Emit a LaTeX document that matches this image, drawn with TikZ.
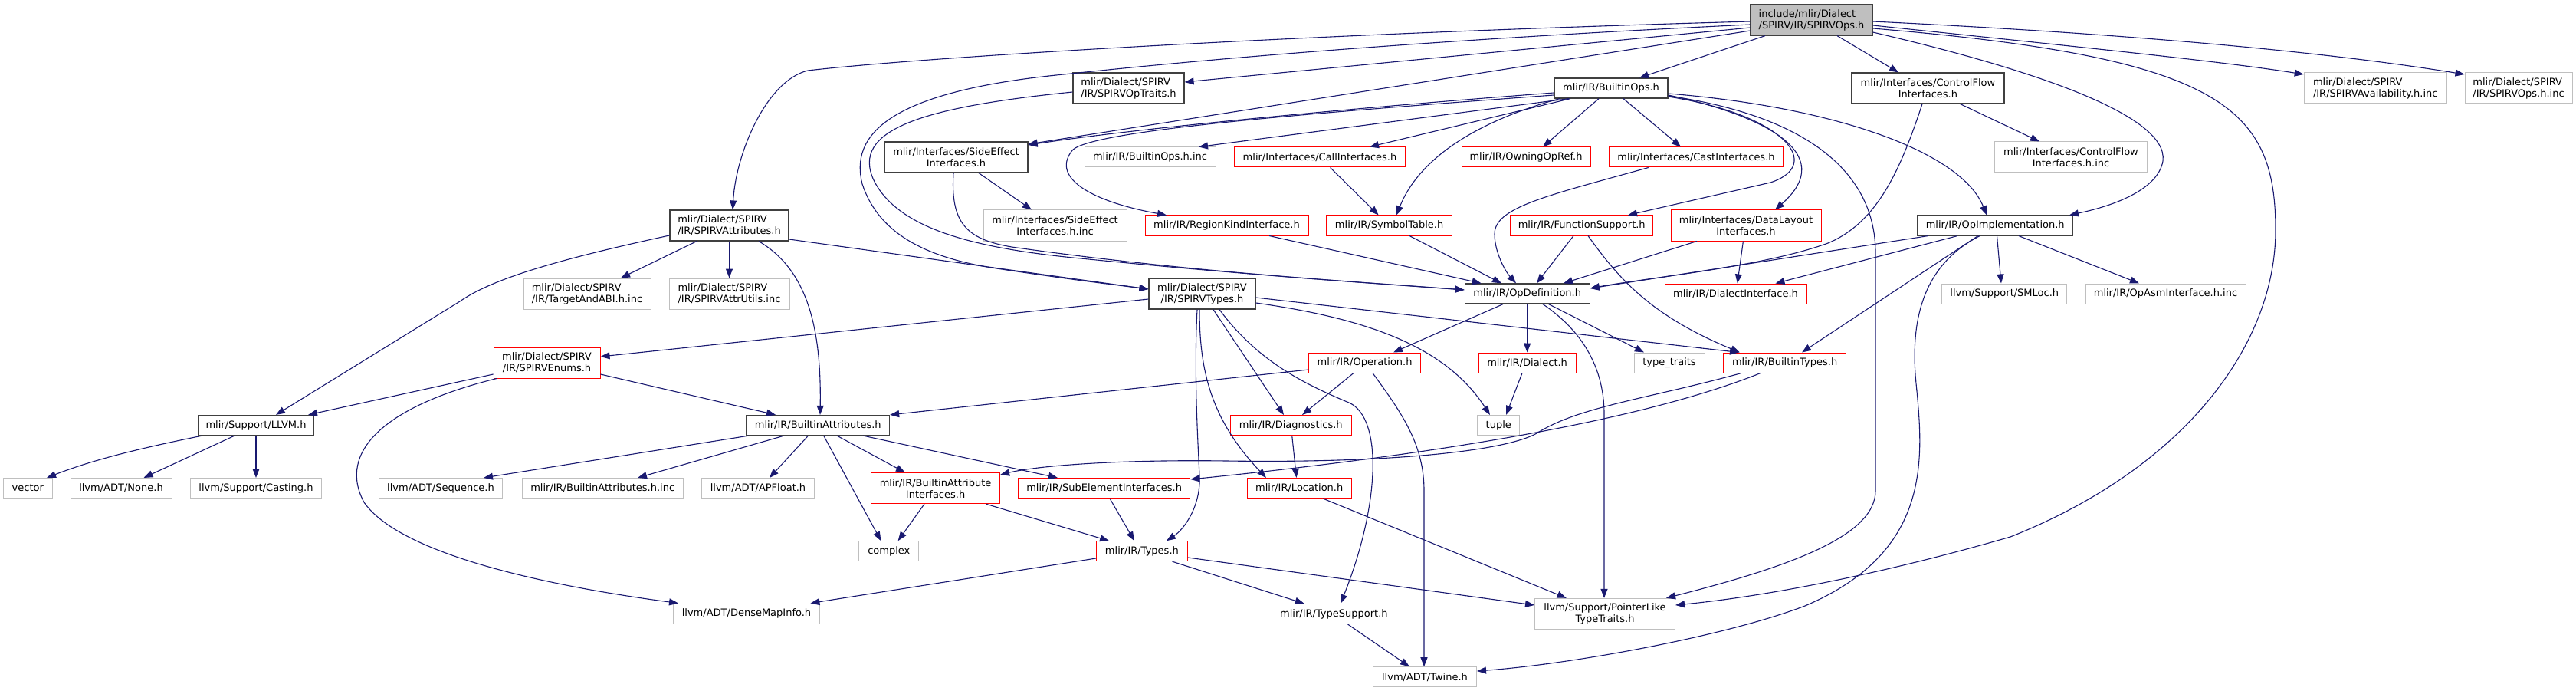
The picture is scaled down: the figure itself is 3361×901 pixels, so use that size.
\documentclass[tikz,border=0pt]{standalone}
\usepackage{fontspec}
\setmainfont{DejaVu Sans}
\usetikzlibrary{arrows.meta}
\definecolor{ebl}{HTML}{191970}
\definecolor{nblk}{HTML}{404040}
\definecolor{ngry}{HTML}{BFBFBF}
\definecolor{nred}{HTML}{FF0000}
\begin{document}
\begin{tikzpicture}[x=1pt,y=-1pt,
  box/.style={draw=nblk, line width=1.2pt, fill=white, inner sep=0pt, align=center, font=\fontsize{13}{15}\selectfont, text=black},
  rbox/.style={box, draw=nred, line width=1pt},
  gbox/.style={box, draw=ngry, line width=1pt},
  wh/.style 2 args={minimum width=#1pt, minimum height=#2pt},
  e/.style={draw=ebl, line width=1.1pt, -{Triangle[length=12pt,width=9pt]}}]
\useasboundingbox (0,0) rectangle (3361,901);
% row A
\node[box, fill=ngry, align=left, wh={159}{40}] (top) at (2363.5,26) {include/mlir/Dialect\\/SPIRV/IR/SPIRVOps.h};
% row B
\node[box, align=left, wh={145}{40}] (optraits) at (1472.5,115) {mlir/Dialect/SPIRV\\/IR/SPIRVOpTraits.h};
\node[box, wh={148}{26}] (builtinops) at (2102,115) {mlir/IR/BuiltinOps.h};
\node[box, wh={199}{40}] (cf) at (2515.4,115) {mlir/Interfaces/ControlFlow\\Interfaces.h};
\node[gbox, align=left, wh={186}{40}] (avail) at (3099.2,115) {mlir/Dialect/SPIRV\\/IR/SPIRVAvailability.h.inc};
\node[gbox, align=left, wh={140}{40}] (opsinc) at (3286,115) {mlir/Dialect/SPIRV\\/IR/SPIRVOps.h.inc};
% row C
\node[box, wh={187}{40}] (sideeff) at (1247.5,205) {mlir/Interfaces/SideEffect\\Interfaces.h};
\node[gbox, wh={171}{26}] (boinc) at (1500.5,205) {mlir/IR/BuiltinOps.h.inc};
\node[rbox, wh={223}{26}] (call) at (1722,205) {mlir/Interfaces/CallInterfaces.h};
\node[rbox, wh={168}{26}] (owning) at (1991,205) {mlir/IR/OwningOpRef.h};
\node[rbox, wh={227}{26}] (cast) at (2213,205) {mlir/Interfaces/CastInterfaces.h};
\node[gbox, wh={199}{40}] (cfinc) at (2702,205) {mlir/Interfaces/ControlFlow\\Interfaces.h.inc};
% row D
\node[box, align=left, wh={155}{40}] (attr) at (951.5,294) {mlir/Dialect/SPIRV\\/IR/SPIRVAttributes.h};
\node[gbox, wh={187}{40}] (sideinc) at (1376.5,294) {mlir/Interfaces/SideEffect\\Interfaces.h.inc};
\node[rbox, wh={213}{26}] (region) at (1600.5,294) {mlir/IR/RegionKindInterface.h};
\node[rbox, wh={164}{26}] (symtab) at (1812.6,294) {mlir/IR/SymbolTable.h};
\node[rbox, wh={186}{26}] (funcsup) at (2063.7,294) {mlir/IR/FunctionSupport.h};
\node[rbox, wh={196}{40}] (datalayout) at (2278,294) {mlir/Interfaces/DataLayout\\Interfaces.h};
\node[box, wh={203}{26}] (opimpl) at (2603.2,294) {mlir/IR/OpImplementation.h};
% row E
\node[gbox, align=left, wh={166}{40}] (tabi) at (766,383) {mlir/Dialect/SPIRV\\/IR/TargetAndABI.h.inc};
\node[gbox, align=left, wh={157}{40}] (autils) at (951.5,383) {mlir/Dialect/SPIRV\\/IR/SPIRVAttrUtils.inc};
\node[box, wh={139}{40}] (spirvtypes) at (1568.5,383) {mlir/Dialect/SPIRV\\/IR/SPIRVTypes.h};
\node[box, wh={163}{26}] (opdef) at (1992.7,383) {mlir/IR/OpDefinition.h};
\node[rbox, wh={185}{26}] (dialif) at (2264.5,383) {mlir/IR/DialectInterface.h};
\node[gbox, wh={163}{26}] (smloc) at (2615.3,383) {llvm/Support/SMLoc.h};
\node[gbox, wh={209}{26}] (opasm) at (2825.5,383) {mlir/IR/OpAsmInterface.h.inc};
% row F
\node[rbox, wh={139}{40}] (enums) at (713.5,473) {mlir/Dialect/SPIRV\\/IR/SPIRVEnums.h};
\node[rbox, wh={145.5}{26}] (operation) at (1780.6,473) {mlir/IR/Operation.h};
\node[rbox, wh={127}{26}] (dialect) at (1992.6,473) {mlir/IR/Dialect.h};
\node[gbox, wh={92}{26}] (typetraits) at (2178,473) {type\_traits};
\node[rbox, wh={160.4}{26}] (btypes) at (2328.6,473) {mlir/IR/BuiltinTypes.h};
% row G
\node[box, wh={150}{26}] (llvm) at (334,554.5) {mlir/Support/LLVM.h};
\node[box, wh={186.5}{26}] (battr) at (1067.3,554.5) {mlir/IR/BuiltinAttributes.h};
\node[rbox, wh={158}{26}] (diag) at (1684.3,554.5) {mlir/IR/Diagnostics.h};
\node[gbox, wh={54.7}{26}] (tuple) at (1955.3,554.5) {tuple};
% row H
\node[gbox, wh={63.5}{26}] (vector) at (36.3,636.5) {vector};
\node[gbox, wh={132}{26}] (none) at (158,636.5) {llvm/ADT/None.h};
\node[gbox, wh={170.6}{26}] (casting) at (334,636.5) {llvm/Support/Casting.h};
\node[gbox, wh={161}{26}] (sequence) at (575,636.5) {llvm/ADT/Sequence.h};
\node[gbox, wh={210}{26}] (battrinc) at (786.2,636.5) {mlir/IR/BuiltinAttributes.h.inc};
\node[gbox, wh={147}{26}] (apfloat) at (989,636.5) {llvm/ADT/APFloat.h};
\node[rbox, wh={168}{40}] (baif) at (1220.6,636.7) {mlir/IR/BuiltinAttribute\\Interfaces.h};
\node[rbox, wh={224}{26}] (subel) at (1440.7,636.5) {mlir/IR/SubElementInterfaces.h};
\node[rbox, wh={136.4}{26}] (loc) at (1695.2,636.5) {mlir/IR/Location.h};
% row I
\node[gbox, wh={78}{26}] (complex) at (1159.8,718.7) {complex};
\node[rbox, wh={119}{26}] (types) at (1489.9,718.7) {mlir/IR/Types.h};
% row J
\node[gbox, wh={190.6}{26}] (densemap) at (974,800) {llvm/ADT/DenseMapInfo.h};
\node[rbox, wh={161.6}{26}] (typesup) at (1740.4,800.5) {mlir/IR/TypeSupport.h};
\node[gbox, wh={183}{40}] (pointer) at (2094,800.3) {llvm/Support/PointerLike\\TypeTraits.h};
% row K
\node[gbox, wh={135}{26}] (twine) at (1859,882.7) {llvm/ADT/Twine.h};

% ---- edges from top
\draw[e] (top.west |- 0,28) .. controls (1700,44) and (1200,75) .. (1054,92) .. controls (1000,105) and (960,200) .. (attr.north -| 956,0);
\draw[e] (top.west |- 0,32) .. controls (1800,55) and (1500,85) .. (1388,97) .. controls (1150,120) and (1110,180) .. (1125,240) .. controls (1145,300) and (1200,335) .. (1300,350) .. controls (1400,365) and (1460,372) .. (spirvtypes.west |- 0,377);
\draw[e] (top.west |- 0,36) -- (optraits.east |- 0,107);
\draw[e] (top.west |- 0,40) -- (sideeff.east |- 0,188);
\draw[e] (top.south -| 2303,0) -- (builtinops.north -| 2139,0);
\draw[e] (top.south -| 2397,0) -- (cf.north -| 2477,0);
\draw[e] (top.east |- 0,42) .. controls (2650,90) and (2830,150) .. (2822,210) .. controls (2815,250) and (2750,270) .. (opimpl.north -| 2700,0);
\draw[e] (top.east |- 0,33) .. controls (2700,60) and (2900,80) .. (avail.west |- 0,97);
\draw[e] (top.east |- 0,28) .. controls (2800,45) and (3050,70) .. (opsinc.west |- 0,97);
\draw[e] (top.east |- 0,37) .. controls (2900,75) and (2969,140) .. (2969,300) .. controls (2969,450) and (2850,610) .. (2623,700) .. controls (2450,750) and (2300,778) .. (pointer.east |- 0,789);
% ---- BuiltinOps
\draw[e] (builtinops.west |- 0,121) .. controls (1800,138) and (1500,165) .. (sideeff.east |- 0,189);
\draw[e] (builtinops.west |- 0,124) .. controls (1700,148) and (1430,170) .. (1400,195) .. controls (1370,230) and (1420,262) .. (region.north -| 1522,0);
\draw[e] (builtinops.south -| 2047,0) -- (boinc.north -| 1564,0);
\draw[e] (builtinops.south -| 2049,0) -- (call.north -| 1787,0);
\draw[e] (builtinops.south -| 2035,0) .. controls (1920,160) and (1850,210) .. (symtab.north -| 1822,0);
\draw[e] (builtinops.south -| 2086,0) -- (owning.north -| 2013,0);
\draw[e] (builtinops.south -| 2118,0) -- (cast.north -| 2193,0);
\draw[e] (builtinops.east |- 0,124) .. controls (2300,150) and (2400,200) .. (datalayout.north -| 2316,0);
\draw[e] (builtinops.east |- 0,126) .. controls (2330,150) and (2380,215) .. (2310,238) -- (funcsup.north -| 2124,0);
\draw[e] (builtinops.east |- 0,122) .. controls (2400,140) and (2560,200) .. (opimpl.north -| 2592,0);
\draw[e] (builtinops.east |- 0,125) .. controls (2350,150) and (2447,220) .. (2447,330) -- (2447,640) .. controls (2447,700) and (2330,740) .. (pointer.north -| 2174,0);
% ---- SideEffect, OpTraits
\draw[e] (sideeff.south -| 1277,0) -- (sideinc.north -| 1346,0);
\draw[e] (sideeff.south -| 1244,0) .. controls (1240,290) and (1260,312) .. (1320,322) .. controls (1550,355) and (1780,368) .. (opdef.west |- 0,378);
\draw[e] (optraits.west |- 0,120) .. controls (1200,140) and (1110,170) .. (1140,235) .. controls (1170,295) and (1260,322) .. (1400,336) .. controls (1620,358) and (1800,370) .. (opdef.west |- 0,378);
% ---- row C/D to OpDefinition
\draw[e] (call.south -| 1735.5,0) -- (symtab.north -| 1798.6,0);
\draw[e] (region.south -| 1656,0) -- (opdef.north -| 1932.6,0);
\draw[e] (symtab.south -| 1839,0) -- (opdef.north -| 1959,0);
\draw[e] (cast.south -| 2150.7,0) .. controls (2020,255) and (1950,270) .. (1950,305) .. controls (1950,330) and (1965,355) .. (opdef.north -| 1978,0);
\draw[e] (funcsup.south -| 2053,0) -- (opdef.north -| 2005,0);
\draw[e] (funcsup.south -| 2072,0) .. controls (2110,360) and (2150,410) .. (btypes.north -| 2270,0);
\draw[e] (datalayout.south -| 2214,0) -- (opdef.north -| 2040,0);
\draw[e] (datalayout.south -| 2274.4,0) -- (dialif.north -| 2266.8,0);
\draw[e] (cf.south -| 2508,0) .. controls (2480,220) and (2450,290) .. (2385,317) .. controls (2300,348) and (2150,362) .. (opdef.east |- 0,376);
\draw[e] (cf.south -| 2557.6,0) -- (cfinc.north -| 2661,0);
% ---- OpImplementation
\draw[e] (opimpl.south -| 2515.5,0) -- (opdef.east |- 0,376);
\draw[e] (opimpl.south -| 2553.8,0) -- (dialif.north -| 2316.5,0);
\draw[e] (opimpl.south -| 2580.6,0) -- (btypes.north -| 2351,0);
\draw[e] (opimpl.south -| 2605.5,0) -- (smloc.north -| 2611,0);
\draw[e] (opimpl.south -| 2634,0) -- (opasm.north -| 2791,0);
\draw[e] (opimpl.south -| 2583,0) .. controls (2520,340) and (2490,400) .. (2500,500) .. controls (2510,600) and (2520,720) .. (2355,790) .. controls (2250,830) and (2050,866) .. (twine.east |- 0,875);
% ---- OpDefinition
\draw[e] (opdef.south -| 1961,0) -- (operation.north -| 1818,0);
\draw[e] (opdef) -- (dialect);
\draw[e] (opdef.south -| 2013,0) .. controls (2055,425) and (2093,470) .. (2093,540) -- (pointer.north -| 2093,0);
\draw[e] (opdef.south -| 2020.6,0) -- (typetraits.north -| 2145,0);
% ---- SPIRVTypes
\draw[e] (spirvtypes.east |- 0,388) -- (btypes.north -| 2269,0);
\draw[e] (spirvtypes.east |- 0,395) .. controls (1780,415) and (1885,450) .. (tuple.north -| 1944,0);
\draw[e] (spirvtypes.west |- 0,390) -- (enums.east |- 0,465);
\draw[e] (spirvtypes.south -| 1562,0) .. controls (1558,480) and (1562,560) .. (1565,620) .. controls (1567,660) and (1545,690) .. (types.north -| 1522,0);
\draw[e] (spirvtypes.south -| 1565,0) .. controls (1565,480) and (1578,545) .. (loc.north -| 1652,0);
\draw[e] (spirvtypes.south -| 1583,0) -- (diag.north -| 1675,0);
\draw[e] (spirvtypes.south -| 1591,0) .. controls (1640,470) and (1700,500) .. (1760,525) .. controls (1805,545) and (1800,660) .. (typesup.north -| 1749,0);
% ---- SPIRVAttributes
\draw[e] (attr.west |- 0,307) .. controls (720,340) and (640,365) .. (600,393) -- (llvm.north -| 360,0);
\draw[e] (attr.south -| 909,0) -- (tabi.north -| 810,0);
\draw[e] (attr) -- (autils);
\draw[e] (attr.south -| 990,0) .. controls (1050,350) and (1072,420) .. (battr.north -| 1070,0);
\draw[e] (attr.east |- 0,312) -- (spirvtypes.west |- 0,377);
% ---- SPIRVEnums
\draw[e] (enums.west |- 0,488) -- (llvm.north -| 402,0);
\draw[e] (enums.south -| 648,0) .. controls (500,530) and (440,590) .. (475,655) .. controls (520,720) and (700,762) .. (densemap.north -| 885,0);
\draw[e] (enums.east |- 0,488) -- (battr.north -| 1012,0);
% ---- LLVM
\draw[e] (llvm.south -| 264,0) .. controls (180,585) and (120,600) .. (vector.north -| 61,0);
\draw[e] (llvm.south -| 306,0) -- (none.north -| 187.5,0);
\draw[e] (llvm) -- (casting);
% ---- BuiltinAttributes
\draw[e] (battr.south -| 977,0) -- (sequence.north -| 631,0);
\draw[e] (battr.south -| 1023,0) -- (battrinc.north -| 832,0);
\draw[e] (battr.south -| 1054.5,0) -- (apfloat.north -| 1004,0);
\draw[e] (battr.south -| 1074.7,0) -- (complex.north -| 1149.4,0);
\draw[e] (battr.south -| 1092,0) -- (baif.north -| 1181,0);
\draw[e] (battr.south -| 1126,0) -- (subel.north -| 1380,0);
% ---- interfaces / types
\draw[e] (baif.south -| 1206,0) -- (complex.north -| 1171.7,0);
\draw[e] (baif.south -| 1286.5,0) -- (types.north -| 1447,0);
\draw[e] (subel.south -| 1448,0) -- (types.north -| 1480,0);
\draw[e] (types.west |- 0,728) -- (densemap.north -| 1057.5,0);
\draw[e] (types.south -| 1529.5,0) -- (typesup.north -| 1701.7,0);
\draw[e] (types.east |- 0,727) -- (pointer.west |- 0,789);
% ---- Operation etc.
\draw[e] (operation.west |- 0,482) -- (battr.north east);
\draw[e] (operation.south -| 1766,0) -- (diag.north -| 1699,0);
\draw[e] (operation.south -| 1791,0) .. controls (1830,540) and (1858,580) .. (1858,640) -- (twine.north -| 1858,0);
\draw[e] (dialect.south -| 1986,0) -- (tuple.north -| 1965,0);
\draw[e] (diag.south -| 1685.7,0) -- (loc.north -| 1691.5,0);
\draw[e] (loc.south -| 1726,0) -- (pointer.north -| 2043.6,0);
\draw[e] (typesup.south -| 1758.5,0) -- (twine.north -| 1839,0);
% ---- BuiltinTypes
\draw[e] (btypes.south -| 2272,0) .. controls (2150,520) and (2060,530) .. (2005,565) .. controls (1960,590) and (1800,604) .. (1600,601) .. controls (1450,599) and (1350,608) .. (baif.east |- 0,619);
\draw[e] (btypes.south -| 2297,0) .. controls (2150,545) and (1900,590) .. (subel.east |- 0,625);
\end{tikzpicture}
\end{document}
